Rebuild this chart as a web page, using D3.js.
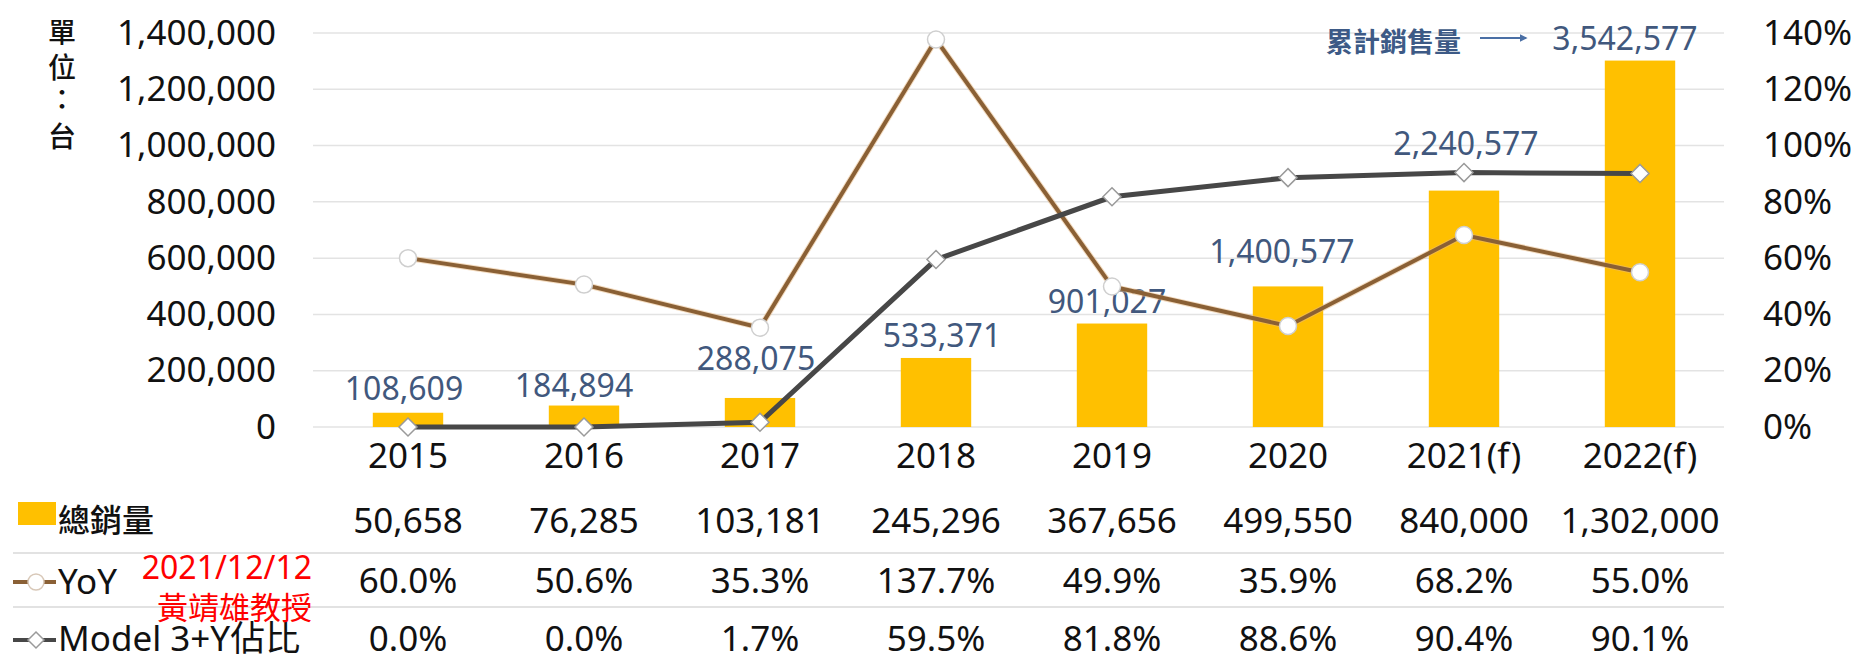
<!DOCTYPE html>
<html>
<head>
<meta charset="utf-8">
<script src="https://cdn.jsdelivr.net/npm/d3@7"></script>
<style>
  body { margin: 0; background: #fff; }
  text { font-family: "Noto Sans", "Noto Sans CJK TC", sans-serif; }
  .cjk { font-family: "Noto Sans CJK TC", "Noto Sans", sans-serif; }
</style>
</head>
<body>
<div id="vis"></div>
<script>
const width = 1863;
const height = 657;

// data
const years = ["2015", "2016", "2017", "2018", "2019", "2020", "2021(f)", "2022(f)"];
const totalSales = [50658, 76285, 103181, 245296, 367656, 499550, 840000, 1302000];
const cumulative = [108609, 184894, 288075, 533371, 901027, 1400577, 2240577, 3542577];
const yoy = [60.0, 50.6, 35.3, 137.7, 49.9, 35.9, 68.2, 55.0];
const modelShare = [0.0, 0.0, 1.7, 59.5, 81.8, 88.6, 90.4, 90.1];
const leftTicks = [0, 200000, 400000, 600000, 800000, 1000000, 1200000, 1400000];
const rightTicks = [0, 20, 40, 60, 80, 100, 120, 140];

// hand nudges for the cumulative labels [dx, gap above bar]
const labelShift = [[-4, 13], [-10, 9], [-4, 28], [6, 11], [-5, 11], [-6, 23], [2, 36], [-15, 11]];

const svg = d3.select("#vis").append("svg")
  .attr("width", width)
  .attr("height", height);

const x = d3.scaleBand()
  .domain(years)
  .range([320, 1728])
  .paddingInner(0.6)
  .paddingOuter(0.3);

const yL = d3.scaleLinear().domain([0, 1400000]).range([427, 33]);
const yR = d3.scaleLinear().domain([0, 140]).range([427, 33]);
const cx = d => x(d) + x.bandwidth() / 2;
const fmt = d3.format(",");

// gridlines
svg.append("g").selectAll("line")
  .data(leftTicks)
  .enter().append("line")
  .attr("x1", 313).attr("x2", 1724)
  .attr("y1", d => yL(d)).attr("y2", d => yL(d))
  .attr("stroke", "#e3e3e3")
  .attr("stroke-width", 1.5);

// left axis
const leftAxis = d3.axisLeft(yL).tickValues(leftTicks).tickFormat(fmt).tickSize(0).tickPadding(0);
svg.append("g")
  .attr("transform", "translate(276,0)")
  .call(leftAxis)
  .call(g => g.select(".domain").remove())
  .selectAll("text")
  .attr("font-size", 35)
  .attr("fill", "#111")
  .attr("font-family", "Noto Sans");

// right axis
const rightAxis = d3.axisRight(yR).tickValues(rightTicks).tickFormat(d => d + "%").tickSize(0).tickPadding(0);
svg.append("g")
  .attr("transform", "translate(1763,0)")
  .call(rightAxis)
  .call(g => g.select(".domain").remove())
  .selectAll("text")
  .attr("font-size", 35)
  .attr("fill", "#111")
  .attr("font-family", "Noto Sans");

// unit label 單位:台
const unitChars = ["單", "位", "：", "台"];
const unitY = [43, 78, 110, 147];
svg.append("g").selectAll("text")
  .data(unitChars)
  .enter().append("text")
  .attr("class", "cjk")
  .attr("x", 62)
  .attr("y", (d, i) => unitY[i])
  .attr("text-anchor", "middle")
  .attr("font-size", 28)
  .attr("font-weight", 500)
  .attr("fill", "#111")
  .text(d => d);

// bars
svg.append("g").selectAll("rect")
  .data(totalSales)
  .enter().append("rect")
  .attr("x", (d, i) => x(years[i]))
  .attr("y", d => yL(d))
  .attr("width", x.bandwidth())
  .attr("height", d => yL(0) - yL(d))
  .attr("fill", "#FFC000");

// cumulative labels
svg.append("g").selectAll("text")
  .data(cumulative)
  .enter().append("text")
  .attr("x", (d, i) => cx(years[i]) + labelShift[i][0])
  .attr("y", (d, i) => yL(totalSales[i]) - labelShift[i][1])
  .attr("text-anchor", "middle")
  .attr("font-size", 32)
  .attr("fill", "#41587d")
  .text(d => fmt(d));

// 累計銷售量 annotation
svg.append("text")
  .attr("class", "cjk")
  .attr("x", 1326)
  .attr("y", 52)
  .attr("font-size", 27)
  .attr("font-weight", 700)
  .attr("fill", "#3d5a86")
  .text("累計銷售量");

const defs = svg.append("defs");
defs.append("marker")
  .attr("id", "arrow")
  .attr("viewBox", "0 0 10 10")
  .attr("refX", 8).attr("refY", 5)
  .attr("markerWidth", 4).attr("markerHeight", 4)
  .attr("orient", "auto")
  .append("path")
  .attr("d", "M0,0L10,5L0,10z")
  .attr("fill", "#4a6fa5");

svg.append("line")
  .attr("x1", 1480).attr("x2", 1526)
  .attr("y1", 38).attr("y2", 38)
  .attr("stroke", "#4a6fa5")
  .attr("stroke-width", 2)
  .attr("marker-end", "url(#arrow)");

// YoY line
const valueLine = d3.line()
  .x((d, i) => cx(years[i]))
  .y(d => yR(d));

svg.append("path")
  .datum(yoy)
  .attr("d", valueLine)
  .attr("fill", "none")
  .attr("stroke", "#e8b780")
  .attr("stroke-width", 6)
  .attr("opacity", 0.5);

svg.append("path")
  .datum(yoy)
  .attr("d", valueLine)
  .attr("fill", "none")
  .attr("stroke", "#8a6035")
  .attr("stroke-width", 4);

// Model share line
svg.append("path")
  .datum(modelShare)
  .attr("d", valueLine)
  .attr("fill", "none")
  .attr("stroke", "#474747")
  .attr("stroke-width", 5);

svg.append("g").selectAll("circle")
  .data(yoy)
  .enter().append("circle")
  .attr("cx", (d, i) => cx(years[i]))
  .attr("cy", d => yR(d))
  .attr("r", 8.5)
  .attr("fill", "#fff")
  .attr("stroke", "#cfcfcf")
  .attr("stroke-width", 1.5);

const diamond = "M0,-9L9,0L0,9L-9,0Z";
svg.append("g").selectAll("path")
  .data(modelShare)
  .enter().append("path")
  .attr("transform", (d, i) => `translate(${cx(years[i])},${yR(d)})`)
  .attr("d", diamond)
  .attr("fill", "#fff")
  .attr("stroke", "#9a9a9a")
  .attr("stroke-width", 1.5);

// category labels
svg.append("g").selectAll("text")
  .data(years)
  .enter().append("text")
  .attr("x", d => cx(d))
  .attr("y", 468)
  .attr("text-anchor", "middle")
  .attr("font-size", 35)
  .attr("fill", "#111")
  .text(d => d);

// data table
const rowY = [533, 593, 651];
const rows = [
  totalSales.map(d => fmt(d)),
  yoy.map(d => d.toFixed(1) + "%"),
  modelShare.map(d => d.toFixed(1) + "%")
];

[553, 607].forEach(yy => {
  svg.append("line")
    .attr("x1", 13).attr("x2", 1724)
    .attr("y1", yy).attr("y2", yy)
    .attr("stroke", "#e2e2e2")
    .attr("stroke-width", 2);
});

rows.forEach((row, r) => {
  svg.append("g").selectAll("text")
    .data(row)
    .enter().append("text")
    .attr("x", (d, i) => cx(years[i]))
    .attr("y", rowY[r])
    .attr("text-anchor", "middle")
    .attr("font-size", 35)
    .attr("fill", "#111")
    .text(d => d);
});

// legend column
svg.append("rect")
  .attr("x", 18).attr("y", 502)
  .attr("width", 38).attr("height", 23)
  .attr("fill", "#FFC000");

svg.append("text")
  .attr("class", "cjk")
  .attr("x", 58).attr("y", 532)
  .attr("font-size", 32)
  .attr("font-weight", 500)
  .attr("fill", "#111")
  .text("總銷量");

svg.append("line")
  .attr("x1", 13).attr("x2", 56)
  .attr("y1", 582).attr("y2", 582)
  .attr("stroke", "#8a6035").attr("stroke-width", 4);
svg.append("circle")
  .attr("cx", 36).attr("cy", 582).attr("r", 8)
  .attr("fill", "#fff").attr("stroke", "#d8c8b8").attr("stroke-width", 1.5);
svg.append("text")
  .attr("x", 58).attr("y", 594)
  .attr("font-size", 35)
  .attr("fill", "#111")
  .text("YoY");

svg.append("line")
  .attr("x1", 13).attr("x2", 56)
  .attr("y1", 640).attr("y2", 640)
  .attr("stroke", "#474747").attr("stroke-width", 4);
svg.append("path")
  .attr("transform", "translate(36,640)")
  .attr("d", "M0,-8L8,0L0,8L-8,0Z")
  .attr("fill", "#fff").attr("stroke", "#9a9a9a").attr("stroke-width", 1.5);
svg.append("text")
  .attr("x", 58).attr("y", 651)
  .attr("font-size", 35)
  .attr("fill", "#111")
  .text("Model 3+Y佔比");

// watermark
svg.append("text")
  .attr("x", 312).attr("y", 579)
  .attr("text-anchor", "end")
  .attr("font-size", 32)
  .attr("fill", "#ff0000")
  .text("2021/12/12");
svg.append("text")
  .attr("class", "cjk")
  .attr("x", 312).attr("y", 619)
  .attr("text-anchor", "end")
  .attr("font-size", 31)
  .attr("fill", "#ff0000")
  .text("黃靖雄教授");
</script>
</body>
</html>
